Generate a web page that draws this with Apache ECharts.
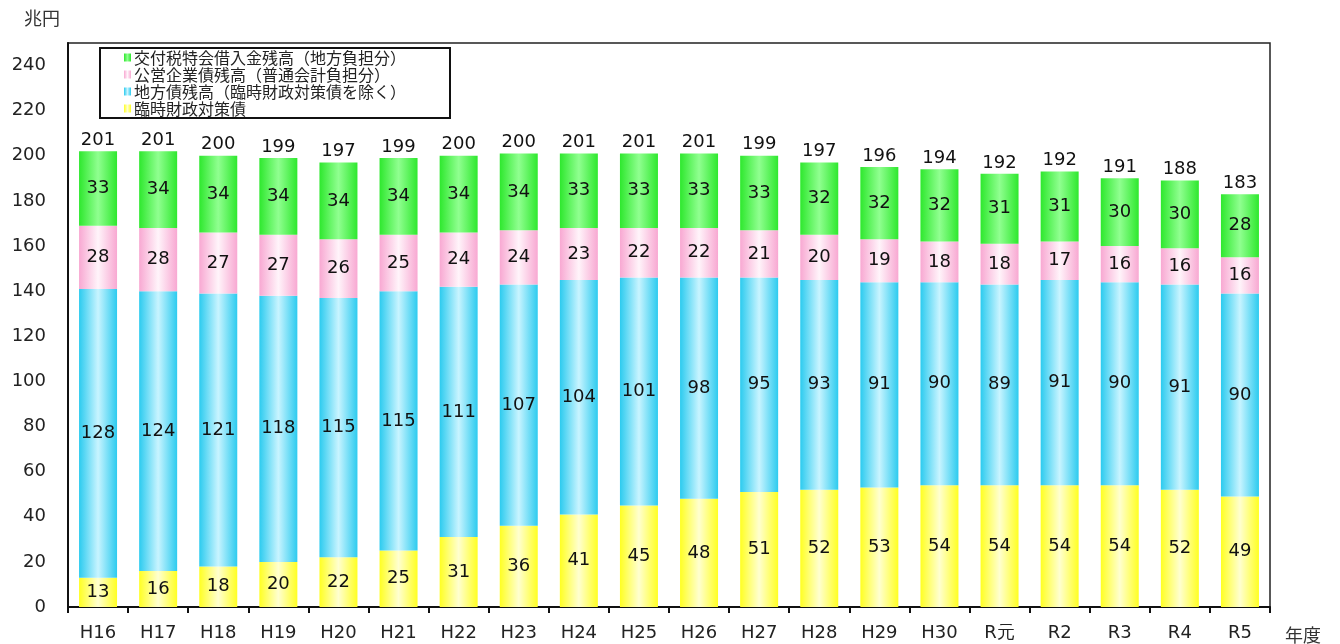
<!DOCTYPE html>
<html><head><meta charset="utf-8">
<script src="https://cdn.jsdelivr.net/npm/echarts@6/dist/echarts.min.js"></script>
<style>html,body{margin:0;padding:0;background:#fff}#c{width:1340px;height:644px}</style>
</head><body><div id="c"></div>
<script>
const categories = ['H16','H17','H18','H19','H20','H21','H22','H23','H24','H25','H26','H27','H28','H29','H30','R元','R2','R3','R4','R5'];
const rinji = [13,16,18,20,22,25,31,36,41,45,48,51,52,53,54,54,54,54,52,49];
const chihousai = [128,124,121,118,115,115,111,107,104,101,98,95,93,91,90,89,91,90,91,90];
const kouei = [28,28,27,27,26,25,24,24,23,22,22,21,20,19,18,18,17,16,16,16];
const koufuzei = [33,34,34,34,34,34,34,34,33,33,33,33,32,32,32,31,31,30,30,28];
const totals = [201,201,200,199,197,199,200,200,201,201,201,199,197,196,194,192,192,191,188,183];
const yTicks = [0,20,40,60,80,100,120,140,160,180,200,220,240];

const names = ['交付税特会借入金残高（地方負担分）','公営企業債残高（普通会計負担分）','地方債残高（臨時財政対策債を除く）','臨時財政対策債'];

function grad(edge, mid){
  return new echarts.graphic.LinearGradient(0,0,1,0,[
    {offset:0,color:edge},{offset:0.5,color:mid},{offset:1,color:edge}]);
}
const font = 'DejaVu Sans, Verdana, sans-serif';
const lbl = {show:true, position:'inside', color:'#111', fontSize:18, fontFamily:font};

const chart = echarts.init(document.getElementById('c'));
chart.setOption({
  animation:false,
  grid:{left:68,right:70,top:43,bottom:37,show:true,borderColor:'#222',borderWidth:1.5,backgroundColor:'transparent'},
  legend:{
    data:names.map(n=>({name:n})),
    orient:'vertical', left:100, top:48, itemWidth:7, itemHeight:8, itemGap:0,
    padding:[1,44,1,24], borderColor:'#111', borderWidth:2, icon:'rect',
    textStyle:{fontFamily:'Noto Sans CJK JP',fontSize:16,color:'#222',lineHeight:17,padding:[0,0,0,-2]}
  },
  xAxis:{type:'category',data:categories,
    axisLine:{lineStyle:{color:'#111',width:2}},
    axisTick:{show:true,length:6,lineStyle:{color:'#111',width:2}},
    axisLabel:{fontSize:18,fontFamily:font,color:'#222',margin:17},
    name:'年度',nameLocation:'end',nameGap:15,
    nameTextStyle:{fontFamily:'Noto Sans CJK JP',fontSize:18,color:'#333',verticalAlign:'top',padding:[19,0,0,0]}
  },
  yAxis:{type:'value',min:0,max:250,interval:20,
    axisLine:{show:true,lineStyle:{color:'#111',width:2}},
    axisTick:{show:false},splitLine:{show:false},
    axisLabel:{fontSize:18,fontFamily:font,color:'#222',margin:22,showMaxLabel:false,
      formatter:v=>yTicks.includes(v)?String(v):''},
    name:'兆円',nameLocation:'end',nameGap:16,
    nameTextStyle:{fontFamily:'Noto Sans CJK JP',fontSize:18,color:'#333',align:'right',padding:[0,8,0,0]}
  },
  series:[
    {name:names[3],type:'bar',stack:'a',data:rinji,barWidth:38,label:lbl,
      itemStyle:{color:grad('#ffff22','#ffffd0')}},
    {name:names[2],type:'bar',stack:'a',data:chihousai,label:lbl,
      itemStyle:{color:grad('#2ccbef','#c8f4ff')}},
    {name:names[1],type:'bar',stack:'a',data:kouei,label:lbl,
      itemStyle:{color:grad('#f8a8d2','#fff4fa')}},
    {name:names[0],type:'bar',stack:'a',data:koufuzei,label:lbl,
      itemStyle:{color:grad('#2ee82e','#90ff90')}},
    {name:'total',type:'bar',stack:'a',data:totals.map(()=>0),
      label:{show:true,position:'top',distance:2,color:'#111',fontSize:18,fontFamily:font,
        formatter:p=>String(totals[p.dataIndex])},
      itemStyle:{color:'transparent'}}
  ]
});
</script></body></html>
